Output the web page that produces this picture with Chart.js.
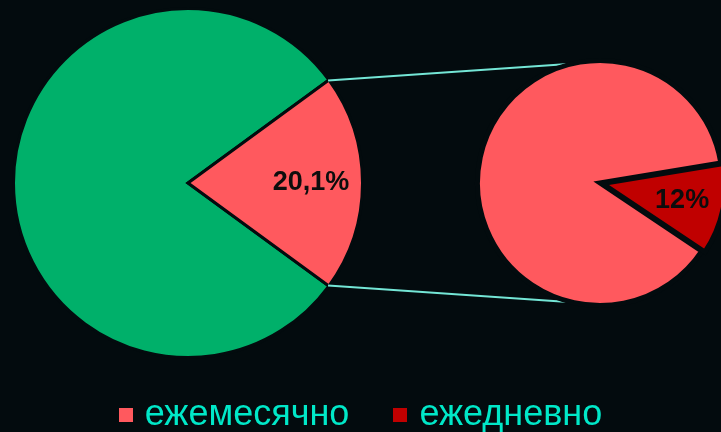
<!DOCTYPE html>
<html lang="ru">
<head>
<meta charset="utf-8">
<script src="https://cdn.jsdelivr.net/npm/chart.js@4.4.1/dist/chart.umd.min.js"></script>
<style>
  html, body { margin: 0; padding: 0; background: #030b0e; overflow: hidden; }
  #cadre { position: relative; width: 721px; height: 432px; }
  #cadre canvas { position: absolute; left: 0; top: 0; }
  #legende {
    position: absolute; left: 0; top: 393px; width: 721px; height: 40px;
    display: flex; justify-content: center; align-items: center;
    font: 36px "Liberation Sans", Arial, sans-serif; line-height: 40px; color: #00e8c8;
  }
  .element-legende { display: flex; align-items: center; margin: 0 22px; }
  .carre { width: 14px; height: 14px; margin-right: 12px; margin-top: 4px; }
</style>
</head>
<body>
<div id="cadre">
  <canvas id="graphique-principal" width="721" height="432"></canvas>
  <canvas id="graphique-detail" width="721" height="432"></canvas>
  <div id="legende"></div>
</div>
<script>
// Camembert principal : le reste + la part détaillée à droite
const categoriesPrincipal = ["прочие", "ежемесячно и ежедневно"]
const valeursPrincipal = [79.9, 20.1]
const couleursPrincipal = ["#00b06a", "#ff595e"]
const etiquettesPrincipal = [false, true]

// Camembert secondaire : détail de la part rouge
const categoriesDetail = ["ежемесячно", "ежедневно"]
const valeursDetail = [88, 12]
const couleursDetail = ["#ff595e", "#c00000"]
const etiquettesDetail = [false, true]

const couleurFond = "#030b0e"

function formaterPourcent(valeur) {
    return String(valeur).replace(".", ",") + "%"
}

// Pourcentages écrits dans les parts
const pluginEtiquettes = {
    id: "etiquettes",
    afterDatasetsDraw(chart, args, opts) {
        const ctx = chart.ctx
        const meta = chart.getDatasetMeta(0)
        const valeurs = chart.data.datasets[0].data
        meta.data.forEach((arc, i) => {
            if (!opts.afficher[i]) return
            const milieu = (arc.startAngle + arc.endAngle) / 2
            const rayon = arc.outerRadius * opts.position + (arc.options.offset || 0) / 2
            ctx.save()
            ctx.font = "bold 27px 'Liberation Sans', Arial, sans-serif"
            ctx.fillStyle = "#0d0d0d"
            ctx.textAlign = "center"
            ctx.textBaseline = "middle"
            ctx.fillText(formaterPourcent(valeurs[i]), arc.x + Math.cos(milieu) * rayon, arc.y + Math.sin(milieu) * rayon)
            ctx.restore()
        })
    }
}

// Traits qui relient la part rouge au second camembert
const pluginLiaisons = {
    id: "liaisons",
    beforeDatasetsDraw(chart) {
        const source = graphiquePrincipal.getDatasetMeta(0).data[1]
        const cible = chart.getDatasetMeta(0).data[0]
        const angleCible = 100 * Math.PI / 180
        const rayonSource = source.outerRadius - 1
        const rayonCible = cible.outerRadius - 1
        const ctx = chart.ctx
        ctx.save()
        ctx.strokeStyle = "#74e6d6"
        ctx.lineWidth = 2
        ctx.beginPath()
        ctx.moveTo(source.x + Math.cos(source.startAngle) * rayonSource, source.y + Math.sin(source.startAngle) * rayonSource)
        ctx.lineTo(cible.x + Math.cos(-angleCible) * rayonCible, cible.y + Math.sin(-angleCible) * rayonCible)
        ctx.moveTo(source.x + Math.cos(source.endAngle) * rayonSource, source.y + Math.sin(source.endAngle) * rayonSource)
        ctx.lineTo(cible.x + Math.cos(angleCible) * rayonCible, cible.y + Math.sin(angleCible) * rayonCible)
        ctx.stroke()
        ctx.restore()
    }
}

const graphiquePrincipal = new Chart(document.querySelector("#graphique-principal"), {
    type: "pie",
    data: {
        labels: categoriesPrincipal,
        datasets: [{
            data: valeursPrincipal,
            backgroundColor: couleursPrincipal,
            borderColor: couleurFond,
            borderWidth: 3,
            borderJoinStyle: "miter",
            hoverOffset: 0,
            clip: false,
        }],
    },
    options: {
        responsive: false,
        animation: false,
        devicePixelRatio: 1,
        events: [],
        rotation: 126.18,
        radius: 174.5,
        layout: { padding: { left: 0, top: 0, right: 345, bottom: 66 } },
        plugins: {
            legend: { display: false },
            tooltip: { enabled: false },
            etiquettes: { afficher: etiquettesPrincipal, position: 0.705 },
        },
    },
    plugins: [pluginEtiquettes],
})

const graphiqueDetail = new Chart(document.querySelector("#graphique-detail"), {
    type: "pie",
    data: {
        labels: categoriesDetail,
        datasets: [{
            data: valeursDetail,
            backgroundColor: couleursDetail,
            borderColor: couleurFond,
            borderWidth: 5,
            borderJoinStyle: "miter",
            offset: [0, 10],
            hoverOffset: 0,
            clip: false,
        }],
    },
    options: {
        responsive: false,
        animation: false,
        devicePixelRatio: 1,
        events: [],
        rotation: 123.8,
        radius: 122.5,
        layout: { padding: { left: 480, top: 0, right: 1, bottom: 66 } },
        plugins: {
            legend: { display: false },
            tooltip: { enabled: false },
            etiquettes: { afficher: etiquettesDetail, position: 0.645 },
        },
    },
    plugins: [pluginEtiquettes, pluginLiaisons],
})

// Légende HTML construite à partir du second camembert
const legendeElement = document.querySelector("#legende")
const elements = Chart.overrides.pie.plugins.legend.labels.generateLabels(graphiqueDetail)
for (let i = 0; i < elements.length; i++) {
    const item = document.createElement("div")
    item.className = "element-legende"
    const carre = document.createElement("span")
    carre.className = "carre"
    carre.style.background = elements[i].fillStyle
    const texte = document.createElement("span")
    texte.textContent = elements[i].text
    item.appendChild(carre)
    item.appendChild(texte)
    legendeElement.appendChild(item)
}
</script>
</body>
</html>
